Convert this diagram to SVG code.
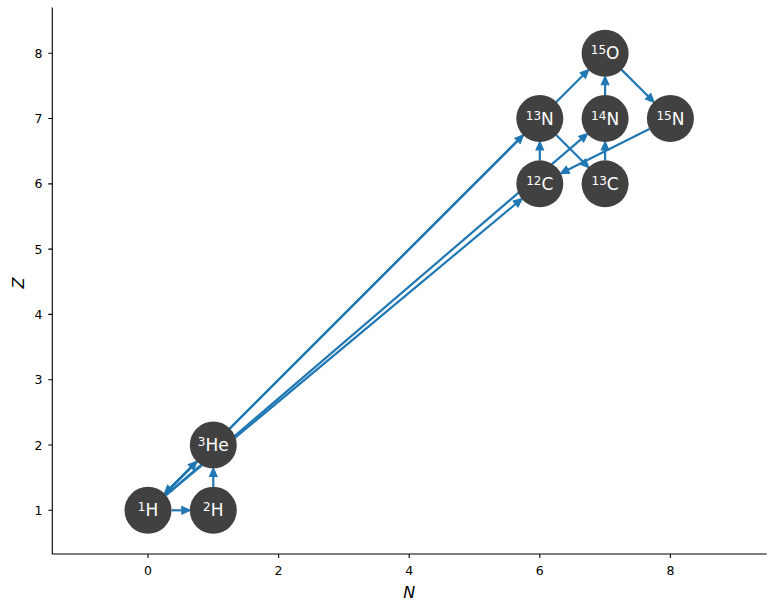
<svg xmlns="http://www.w3.org/2000/svg" width="775" height="611" viewBox="0 0 775 611">
<defs>
<marker id="ah" markerUnits="userSpaceOnUse" markerWidth="12" markerHeight="12" refX="0" refY="0" viewBox="-1 -5 11 10" orient="auto" overflow="visible">
<path d="M0,-3.5 L8,0 L0,3.5 z" fill="#1f77b4" stroke="#1f77b4" stroke-width="1" stroke-linejoin="miter"/>
</marker>
<style>
.e{stroke:#1f77b4;stroke-width:2.2;fill:none;marker-end:url(#ah)}
.n circle{fill:#414141}
.n text{fill:#ffffff;font-family:"DejaVu Sans",sans-serif;font-size:17px;text-anchor:middle}
.s{font-size:12px}
.tk{font-family:"DejaVu Sans",sans-serif;font-size:12.5px;fill:#000}
.ax{stroke:#000;stroke-width:1.1;fill:none}
.lab{font-family:"DejaVu Sans",sans-serif;font-size:16px;font-style:italic;fill:#000}
</style>
</defs>
<rect width="775" height="611" fill="#fff"/>
<g id="axes">
<path class="ax" d="M52.3,7.5 V554 H766.7"/>
<path class="ax" d="M148,554v4 M278.6,554v4 M409.2,554v4 M539.8,554v4 M670.4,554v4"/>
<path class="ax" d="M52.3,510.3h-4 M52.3,445h-4 M52.3,379.7h-4 M52.3,314.4h-4 M52.3,249.1h-4 M52.3,183.85h-4 M52.3,118.56h-4 M52.3,53.27h-4"/>
<g class="tk" text-anchor="middle">
<text x="148" y="575">0</text>
<text x="278.6" y="575">2</text>
<text x="409.2" y="575">4</text>
<text x="539.8" y="575">6</text>
<text x="670.4" y="575">8</text>
</g>
<g class="tk" text-anchor="end">
<text x="42.5" y="514.8">1</text>
<text x="42.5" y="449.5">2</text>
<text x="42.5" y="384.2">3</text>
<text x="42.5" y="318.9">4</text>
<text x="42.5" y="253.6">5</text>
<text x="42.5" y="188.3">6</text>
<text x="42.5" y="123.1">7</text>
<text x="42.5" y="57.8">8</text>
</g>
<text class="lab" x="409.2" y="598" text-anchor="middle">N</text>
<text class="lab" x="0" y="0" text-anchor="middle" transform="translate(23.5,283) rotate(-90)">Z</text>
</g>
<g id="edges">
<line class="e" x1="171.5" y1="510.3" x2="181.8" y2="510.3"/>
<line class="e" x1="213.3" y1="486.8" x2="213.3" y2="476.5"/>
<line class="e" x1="164.62" y1="493.68" x2="191.02" y2="467.28"/>
<line class="e" x1="196.68" y1="461.62" x2="170.28" y2="488.02"/>
<line class="e" x1="164.62" y1="493.68" x2="517.52" y2="140.84"/>
<line class="e" x1="164.62" y1="493.68" x2="582.82" y2="75.55"/>
<line class="e" x1="166.05" y1="495.26" x2="515.6" y2="204.01"/>
<line class="e" x1="165.84" y1="495.01" x2="581.19" y2="139.06"/>
<line class="e" x1="539.8" y1="160.35" x2="539.8" y2="150.06"/>
<line class="e" x1="556.42" y1="135.18" x2="582.82" y2="161.57"/>
<line class="e" x1="605.1" y1="160.35" x2="605.1" y2="150.06"/>
<line class="e" x1="605.1" y1="95.06" x2="605.1" y2="84.77"/>
<line class="e" x1="621.72" y1="69.89" x2="648.12" y2="96.28"/>
<line class="e" x1="649.38" y1="129.07" x2="567.98" y2="169.76"/>
</g>
<g id="n1H" class="n"><circle cx="148" cy="510.3" r="23.5"/><text x="148" y="516.3"><tspan class="s" dy="-5">1</tspan><tspan dy="5">H</tspan></text></g>
<g id="n2H" class="n"><circle cx="213.3" cy="510.3" r="23.5"/><text x="213.3" y="516.3"><tspan class="s" dy="-5">2</tspan><tspan dy="5">H</tspan></text></g>
<g id="n3He" class="n"><circle cx="213.3" cy="445" r="23.5"/><text x="213.3" y="451"><tspan class="s" dy="-5">3</tspan><tspan dy="5">He</tspan></text></g>
<g id="n12C" class="n"><circle cx="539.8" cy="183.85" r="23.5"/><text x="539.8" y="189.85"><tspan class="s" dy="-5">12</tspan><tspan dy="5">C</tspan></text></g>
<g id="n13C" class="n"><circle cx="605.1" cy="183.85" r="23.5"/><text x="605.1" y="189.85"><tspan class="s" dy="-5">13</tspan><tspan dy="5">C</tspan></text></g>
<g id="n13N" class="n"><circle cx="539.8" cy="118.56" r="23.5"/><text x="539.8" y="124.56"><tspan class="s" dy="-5">13</tspan><tspan dy="5">N</tspan></text></g>
<g id="n14N" class="n"><circle cx="605.1" cy="118.56" r="23.5"/><text x="605.1" y="124.56"><tspan class="s" dy="-5">14</tspan><tspan dy="5">N</tspan></text></g>
<g id="n15N" class="n"><circle cx="670.4" cy="118.56" r="23.5"/><text x="670.4" y="124.56"><tspan class="s" dy="-5">15</tspan><tspan dy="5">N</tspan></text></g>
<g id="n15O" class="n"><circle cx="605.1" cy="53.27" r="23.5"/><text x="605.1" y="59.27"><tspan class="s" dy="-5">15</tspan><tspan dy="5">O</tspan></text></g>
</svg>
